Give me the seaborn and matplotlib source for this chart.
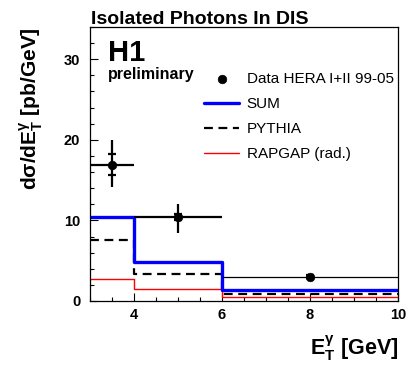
import numpy as np
import pandas as pd
import matplotlib
matplotlib.use("Agg")
import matplotlib.pyplot as plt
import seaborn as sns

# Bin edges in E_T^gamma [GeV]
bin_edges = [3, 4, 6, 10]

# Measured cross section (data points)
data_xsec = [16.9, 10.4, 3.0]
data_tot_up = [3.1, 1.6, 0.3]
data_tot_dn = [2.7, 1.9, 0.3]
data_stat = [1.3, 0.4, 0.2]

# Predictions per bin
sum_xsec = [10.4, 4.9, 1.35]
pythia_xsec = [7.6, 3.4, 0.83]
rapgap_xsec = [2.7, 1.5, 0.5]

# Seaborn setup, then the ROOT-like look
sns.set_style("ticks")
plt.rcParams['font.family'] = ['Liberation Sans', 'DejaVu Sans']
plt.rcParams['mathtext.fontset'] = 'custom'
plt.rcParams['mathtext.rm'] = 'Liberation Sans'
plt.rcParams['mathtext.bf'] = 'Liberation Sans:bold'
plt.rcParams['mathtext.it'] = 'Liberation Sans:italic'
for key in ['text.color', 'axes.labelcolor', 'xtick.color', 'ytick.color',
            'axes.edgecolor']:
    plt.rcParams[key] = 'black'

edges = np.array(bin_edges, dtype=float)
centers = 0.5 * (edges[:-1] + edges[1:])
half_width = 0.5 * (edges[1:] - edges[:-1])


def step_frame(values):
    # repeat the last value so the step reaches the right edge
    return pd.DataFrame({'x': edges, 'y': list(values) + [values[-1]]})


fig = plt.figure(figsize=(4.15, 3.73), dpi=100)
ax = fig.add_axes([90 / 415, 72 / 373, 308 / 415, 274 / 373])

# Predictions as step histograms
sns.lineplot(data=step_frame(rapgap_xsec), x='x', y='y', ax=ax,
             drawstyle='steps-post', estimator=None, sort=False,
             color='#ff0000', lw=1.0, label='RAPGAP (rad.)')
sns.lineplot(data=step_frame(pythia_xsec), x='x', y='y', ax=ax,
             drawstyle='steps-post', estimator=None, sort=False,
             color='black', lw=1.6, dashes=False, label='PYTHIA')
ax.lines[-1].set_linestyle((0, (4, 2.5)))
sns.lineplot(data=step_frame(sum_xsec), x='x', y='y', ax=ax,
             drawstyle='steps-post', estimator=None, sort=False,
             color='#0000ff', lw=2.4, label='SUM')

# Data: total errors with the bin width as x error
yerr_tot = np.array([data_tot_dn, data_tot_up])
ax.errorbar(centers[:2], data_xsec[:2], xerr=half_width[:2],
            yerr=yerr_tot[:, :2], fmt='none', ecolor='black', elinewidth=1.6,
            capsize=0, zorder=5)
ax.errorbar(centers[2:], data_xsec[2:], xerr=half_width[2:],
            yerr=yerr_tot[:, 2:], fmt='none', ecolor='black', elinewidth=0.9,
            capsize=0, zorder=5)
# Statistical error ticks
ax.errorbar(centers, data_xsec, yerr=data_stat, fmt='none', ecolor='black',
            elinewidth=0, capsize=3, capthick=1.6, zorder=5)
sns.scatterplot(x=centers, y=data_xsec, ax=ax, color='black', s=38,
                edgecolor='black', zorder=6, label='Data HERA I+II 99-05')

ax.set_xlim(3, 10)
ax.set_ylim(0, 34)
ax.set_xticks([4, 6, 8, 10])
ax.set_yticks([0, 10, 20, 30])
ax.xaxis.set_minor_locator(matplotlib.ticker.MultipleLocator(0.5))
ax.yaxis.set_minor_locator(matplotlib.ticker.MultipleLocator(2))
ax.tick_params(which='both', direction='in', top=False, right=False,
               width=0.8, labelsize=10.5)
ax.tick_params(which='major', length=5.5)
ax.tick_params(which='minor', length=3)
ax.tick_params(axis='x', pad=5)
ax.tick_params(axis='y', pad=7)
for lbl in ax.get_xticklabels() + ax.get_yticklabels():
    lbl.set_fontweight('bold')
for sp in ax.spines.values():
    sp.set_linewidth(0.9)

# Axis labels in the ROOT positions
ax.set_xlabel(r'E$_\mathbf{T}^\mathbf{\gamma}$ [GeV]', fontsize=15.5,
              fontweight='bold', loc='right')
ax.xaxis.set_label_coords(1.0, -0.12)
ax.set_ylabel(r'd$\mathbf{\sigma}$/dE$_\mathbf{T}^\mathbf{\gamma}$ [pb/GeV]',
              fontsize=15, fontweight='bold', loc='top')
ax.yaxis.set_label_coords(-0.145, 1.0)

# Legend: data, SUM, PYTHIA, RAPGAP
handles, labels = ax.get_legend_handles_labels()
order = [labels.index(n) for n in
         ['Data HERA I+II 99-05', 'SUM', 'PYTHIA', 'RAPGAP (rad.)']]
ax.legend([handles[i] for i in order], [labels[i] for i in order],
          loc='upper left', bbox_to_anchor=((204 - 90) / 308, 0.835),
          frameon=False, fontsize=11, borderpad=0, borderaxespad=0,
          handlelength=2.3, handletextpad=0.5, labelspacing=0.72)

# Texts
fig.text(91 / 415, 1 - 24.5 / 373, 'Isolated Photons In DIS', fontsize=14,
         fontweight='bold', ha='left', va='baseline')
ax.text((108 - 90) / 308, (301 - 61) / 274, 'H1', fontsize=21,
        fontweight='bold', transform=ax.transAxes, va='baseline')
ax.text((108 - 90) / 308, (301 - 79) / 274, 'preliminary', fontsize=11.5,
        fontweight='bold', transform=ax.transAxes, va='baseline')

plt.savefig('out.png', dpi=100)
